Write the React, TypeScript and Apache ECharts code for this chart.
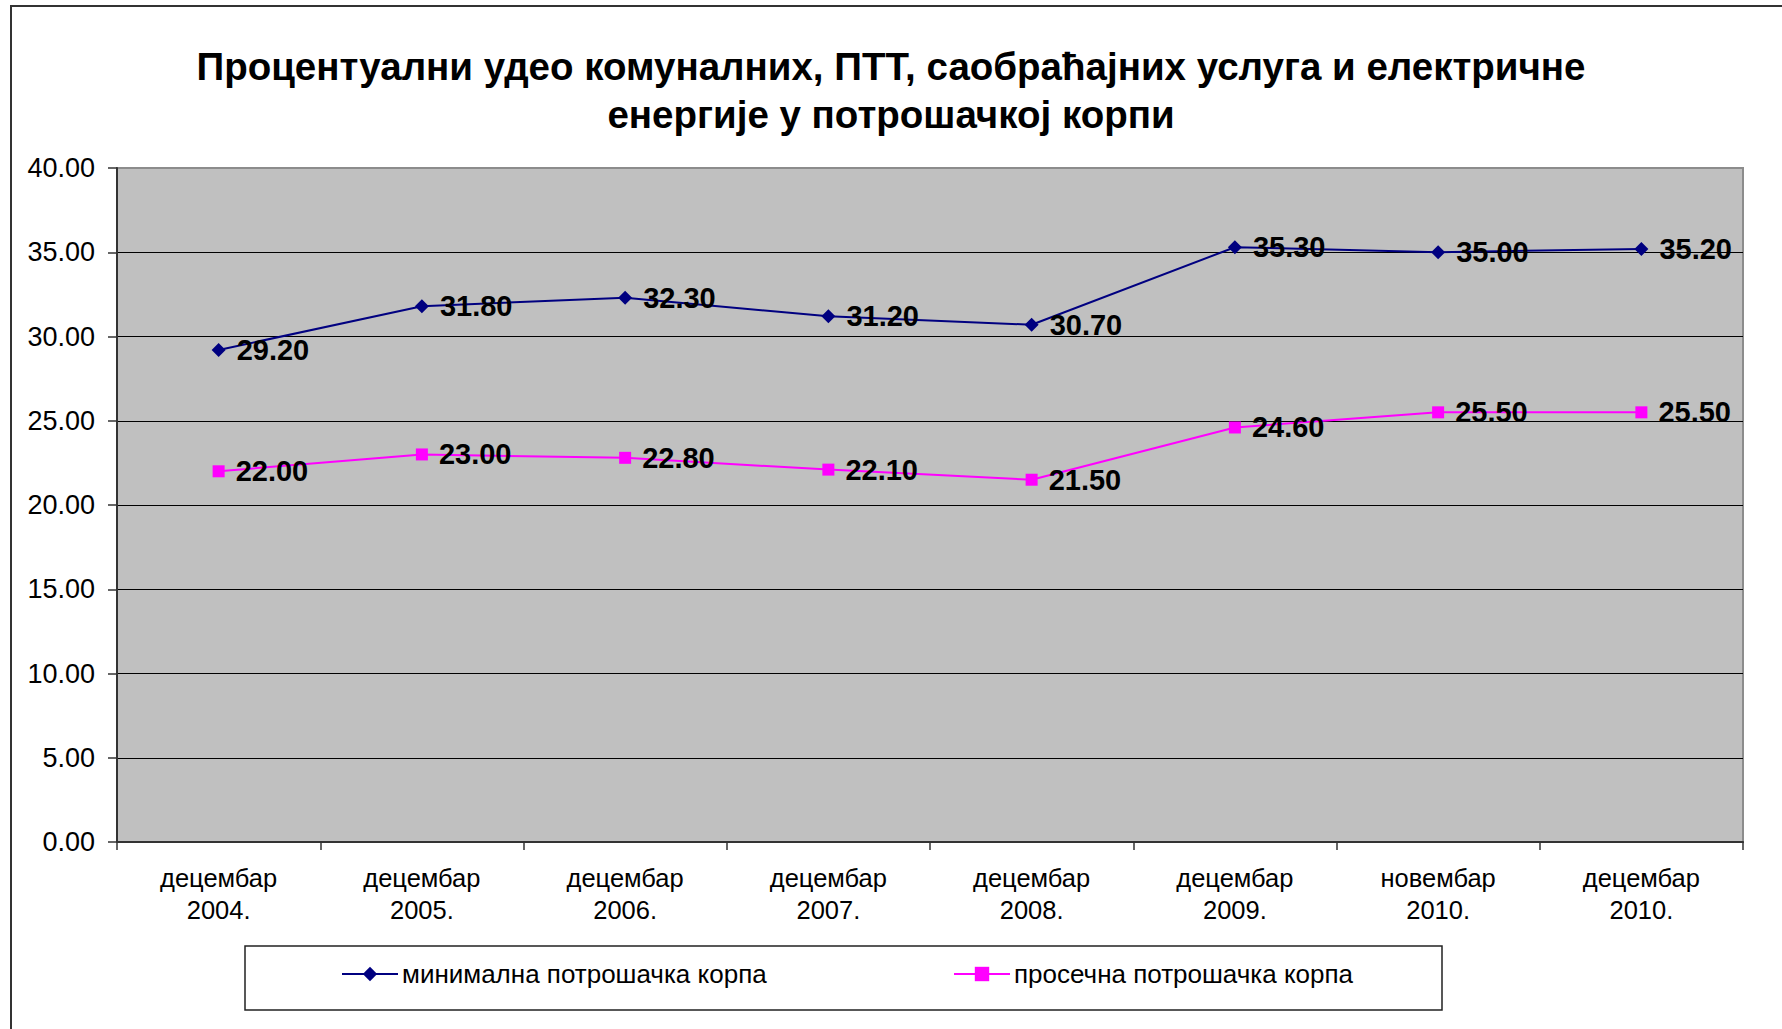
import React, { useEffect, useRef } from "react";
import * as echarts from "echarts";

const titleText = "Процентуални удео комуналних, ПТТ, саобраћајних услуга и електричне\nенергије у потрошачкој корпи";
const categories = [
  "децембар\n2004.",
  "децембар\n2005.",
  "децембар\n2006.",
  "децембар\n2007.",
  "децембар\n2008.",
  "децембар\n2009.",
  "новембар\n2010.",
  "децембар\n2010.",
];
const seriesNames = ["минимална потрошачка корпа", "просечна потрошачка корпа"];
const minimalna = [29.2, 31.8, 32.3, 31.2, 30.7, 35.3, 35.0, 35.2];
const prosecna = [22.0, 23.0, 22.8, 22.1, 21.5, 24.6, 25.5, 25.5];
const yMin = 0;
const yMax = 40;
const yStep = 5;

const FONT = "'Liberation Sans', Arial, sans-serif";

export default function App() {
  const ref = useRef<HTMLDivElement>(null);
  useEffect(() => {
    if (!ref.current) return;
    const chart = echarts.init(ref.current, null, { renderer: "svg" });
    const splitColors = [] as string[];
    for (let v = yMin; v <= yMax; v += yStep) splitColors.push(v === yMax ? "#8c8c8c" : "#000000");
    const labelCfg = {
      show: true,
      position: "right",
      distance: 11,
      fontSize: 29,
      fontWeight: "bold",
      color: "#000",
      fontFamily: FONT,
      formatter: (p: any) => Number(p.value).toFixed(2),
    };
    chart.setOption({
      animation: false,
      backgroundColor: "#ffffff",
      textStyle: { fontFamily: FONT },
      title: {
        text: titleText,
        left: "center",
        top: 37,
        textStyle: { fontSize: 38.5, fontWeight: "bold", color: "#000", lineHeight: 48, fontFamily: FONT },
      },
      graphic: [
        {
          type: "rect",
          shape: { x: 11, y: 6, width: 1900, height: 1200 },
          style: { fill: "none", stroke: "#333", lineWidth: 2 },
          silent: true,
        },
        {
          type: "rect",
          shape: { x: 245, y: 946, width: 1197, height: 64 },
          style: { fill: "#fff", stroke: "#222", lineWidth: 1.5 },
          silent: true,
          z: -1,
        },
      ],
      legend: [
        {
          data: [seriesNames[0]],
          left: 336,
          top: 956,
          itemWidth: 56,
          itemHeight: 18,
          itemGap: 4,
          textStyle: { fontSize: 26, color: "#000", fontFamily: FONT, padding: [0, 0, 0, -1] },
        },
        {
          data: [seriesNames[1]],
          left: 948,
          top: 956,
          itemWidth: 56,
          itemHeight: 18,
          itemGap: 4,
          textStyle: { fontSize: 26, color: "#000", fontFamily: FONT, padding: [0, 0, 0, -1] },
        },
      ],
      grid: {
        left: 117,
        top: 168,
        width: 1626,
        height: 674,
        show: true,
        backgroundColor: "#c0c0c0",
        borderColor: "#8c8c8c",
        borderWidth: 2,
      },
      xAxis: {
        type: "category",
        data: categories,
        boundaryGap: true,
        axisLine: { show: true, lineStyle: { color: "#333", width: 2 } },
        axisTick: { show: true, length: 8, lineStyle: { color: "#333", width: 1.5 } },
        axisLabel: { fontSize: 25.5, color: "#000", lineHeight: 32, margin: 20, fontFamily: FONT, interval: 0 },
        splitLine: { show: false },
      },
      yAxis: {
        type: "value",
        min: yMin,
        max: yMax,
        interval: yStep,
        axisLine: { show: true, lineStyle: { color: "#333", width: 2 } },
        axisTick: { show: true, length: 9, lineStyle: { color: "#333", width: 1.5 } },
        axisLabel: {
          fontSize: 27,
          color: "#000",
          margin: 22,
          fontFamily: FONT,
          formatter: (v: number) => v.toFixed(2),
        },
        splitLine: { show: true, lineStyle: { color: splitColors, width: 1.2 } },
      },
      series: [
        {
          name: seriesNames[0],
          type: "line",
          data: minimalna,
          symbol: "diamond",
          symbolSize: 14,
          itemStyle: { color: "#000080" },
          lineStyle: { color: "#000080", width: 2 },
          label: labelCfg,
          z: 3,
        },
        {
          name: seriesNames[1],
          type: "line",
          data: prosecna,
          symbol: "rect",
          symbolSize: 12,
          itemStyle: { color: "#ff00ff" },
          lineStyle: { color: "#ff00ff", width: 2 },
          label: labelCfg,
          z: 2,
        },
      ],
    });
    return () => chart.dispose();
  }, []);
  return (
    <div
      ref={ref}
      style={{ position: "absolute", left: 0, top: 0, width: 1782, height: 1029 }}
    />
  );
}
